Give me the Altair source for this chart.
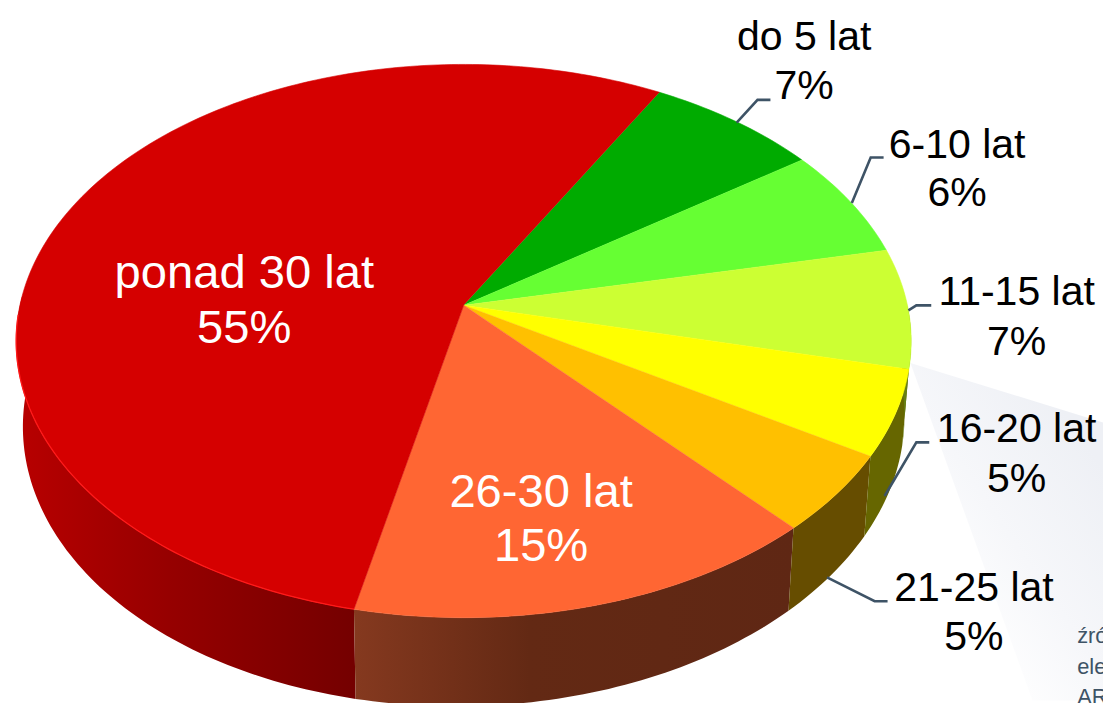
import math
import altair as alt
import pandas as pd

# chart values
slices = ["do 5 lat", "6-10 lat", "11-15 lat", "16-20 lat", "21-25 lat", "26-30 lat", "ponad 30 lat"]
shares = [7.1, 6.4, 7.0, 5.0, 4.6, 15.2, 54.7]          # measured on the picture
labels = ["7%", "6%", "7%", "5%", "5%", "15%", "55%"]   # printed values
tops = ["#00AB00", "#66FF33", "#CCFF33", "#FFFF00", "#FFC000", "#FF6633", "#D50000"]
label_x = [810, 964, 1024, 1024, 981, 545, 246]
name_y = [48, 157, 305, 443, 603, 508, 288]
pct_y = [97, 205, 355, 493, 652, 563, 343]
leader_x = [[742, 763, 776], [858, 877, 890], [915, 923, 938], [891, 923, 936], [833, 881, 894]]
leader_y = [[121, 98, 98], [202, 156, 156], [310, 305, 305], [497, 443, 443], [579, 603, 603]]
source_lines = ["źró", "ele", "AR"]
source_y = [645, 676, 707]
band_x = [917, 1111, 1111, 1040]
band_y = [363, 423, 703, 703]

# perspective of the pie
START = 29.4
CX, CY, A, B, K = 467, 305, 274, 447, 0.129
SHRINK, DEPTH, DEPTH_V, DEPTH_X = 0.985, 80, 14, -5


def top(t):
    u, v = math.sin(math.radians(t)), -math.cos(math.radians(t))
    w = 1 - K * v
    return CX + B * u / w, CY + A * v / w


def bottom(t):
    u, v = math.sin(math.radians(t)), -math.cos(math.radians(t))
    w = 1 - K * v
    xp = SHRINK * B * u / w
    return CX + xp, CY + SHRINK * A * v / w + DEPTH + DEPTH_V * v + DEPTH_X * xp / 440


def angles(a, b, step=1.0):
    n = max(2, int((b - a) / step) + 1)
    return [a + (b - a) * i / (n - 1) for i in range(n)]


edges = [START]
for s in shares:
    edges.append(edges[-1] + s * 3.6)

top_rows, wall_rows = [], []
for name, a, b in zip(slices, edges[:-1], edges[1:]):
    pts = [(CX, CY)] + [top(t) for t in angles(a, b)]
    for i, (x, y) in enumerate(pts):
        top_rows.append(dict(slice=name, i=i, x=x, y=y))
    a2, b2 = max(a, 90), min(b, 272)
    if a2 < b2:
        ts = angles(a2, b2)
        pts = [top(t) for t in ts] + [bottom(t) for t in reversed(ts)]
        for i, (x, y) in enumerate(pts):
            wall_rows.append(dict(slice=name, i=i, x=x, y=y))
tops_df = pd.DataFrame(top_rows)
walls_df = pd.DataFrame(wall_rows)

X = alt.X("x:Q", scale=alt.Scale(domain=[8, 1111], nice=False, zero=False), axis=None)
Y = alt.Y("y:Q", scale=alt.Scale(domain=[703, 8], nice=False, zero=False), axis=None)
ORDER = alt.Order("i:Q")


def grad(stops, x1=0, y1=0, x2=1, y2=0):
    return alt.LinearGradient(
        gradient="linear", x1=x1, y1=y1, x2=x2, y2=y2,
        stops=[alt.GradientStop(offset=o, color=c) for o, c in stops],
    )


band = alt.Chart(pd.DataFrame({"x": band_x, "y": band_y, "i": range(4)})).mark_line(
    fill=grad([(0, "#EEF0F5"), (0.55, "#F6F7FA"), (1, "#FFFFFF")], x1=0.75, y1=0.1, x2=0.2, y2=0.75),
    strokeWidth=0, interpolate="linear",
).encode(x=X, y=Y, order=ORDER)

wall_fill = {
    "ponad 30 lat": grad([(0, "#B80000"), (0.45, "#960000"), (1, "#740000")]),
    "26-30 lat": grad([(0, "#85391F"), (0.4, "#632914"), (1, "#5F2714")]),
    "21-25 lat": "#664D00",
    "16-20 lat": "#666600",
    "11-15 lat": "#667F14",
}
walls = [
    alt.Chart(walls_df[walls_df.slice == n]).mark_line(fill=f, stroke=None).encode(x=X, y=Y, order=ORDER)
    for n, f in wall_fill.items()
]
faces = [
    alt.Chart(tops_df[tops_df.slice == n]).mark_line(fill=c, stroke=c, strokeWidth=0.6).encode(x=X, y=Y, order=ORDER)
    for n, c in zip(slices, tops)
]

rim_rows = []
for t in angles(edges[6], 268):
    x, y = top(t)
    rim_rows.append(dict(x=x, y=y, i=t))
rim = alt.Chart(pd.DataFrame(rim_rows)).mark_line(color="#FF1A1A", strokeWidth=1.3).encode(x=X, y=Y, order=ORDER)

leader_charts = [
    alt.Chart(pd.DataFrame({"x": lx, "y": ly, "i": range(3)})).mark_line(color="#3E5366", strokeWidth=2.6).encode(x=X, y=Y, order=ORDER)
    for lx, ly in zip(leader_x, leader_y)
]

text_rows = []
for n, p, x, ny, py in zip(slices, labels, label_x, name_y, pct_y):
    inside = n in ("26-30 lat", "ponad 30 lat")
    text_rows.append(dict(t=n, x=x, y=ny, white=inside))
    text_rows.append(dict(t=p, x=x, y=py, white=inside))
text_df = pd.DataFrame(text_rows)


def text_layer(df, color, size):
    return alt.Chart(df).mark_text(
        font="Liberation Sans", fontSize=size, color=color, align="center", baseline="alphabetic"
    ).encode(x=X, y=Y, text="t:N")


inner = text_layer(text_df[text_df.white], "#FFFFFF", 47.5)
outer = text_layer(text_df[~text_df.white], "#000000", 41.3)
source = alt.Chart(pd.DataFrame({"t": source_lines, "x": [1085] * 3, "y": source_y})).mark_text(
    font="Liberation Sans", fontSize=22, color="#3E5366", align="left", baseline="alphabetic"
).encode(x=X, y=Y, text="t:N")

chart = alt.layer(band, *walls, *faces, rim, *leader_charts, inner, outer, source).properties(
    width=1103, height=695, padding=0, autosize=alt.AutoSizeParams(type="none"), background="#FFFFFF"
).configure_view(stroke=None)

chart.save("out.html", embed_options={"renderer": "svg", "actions": False})
